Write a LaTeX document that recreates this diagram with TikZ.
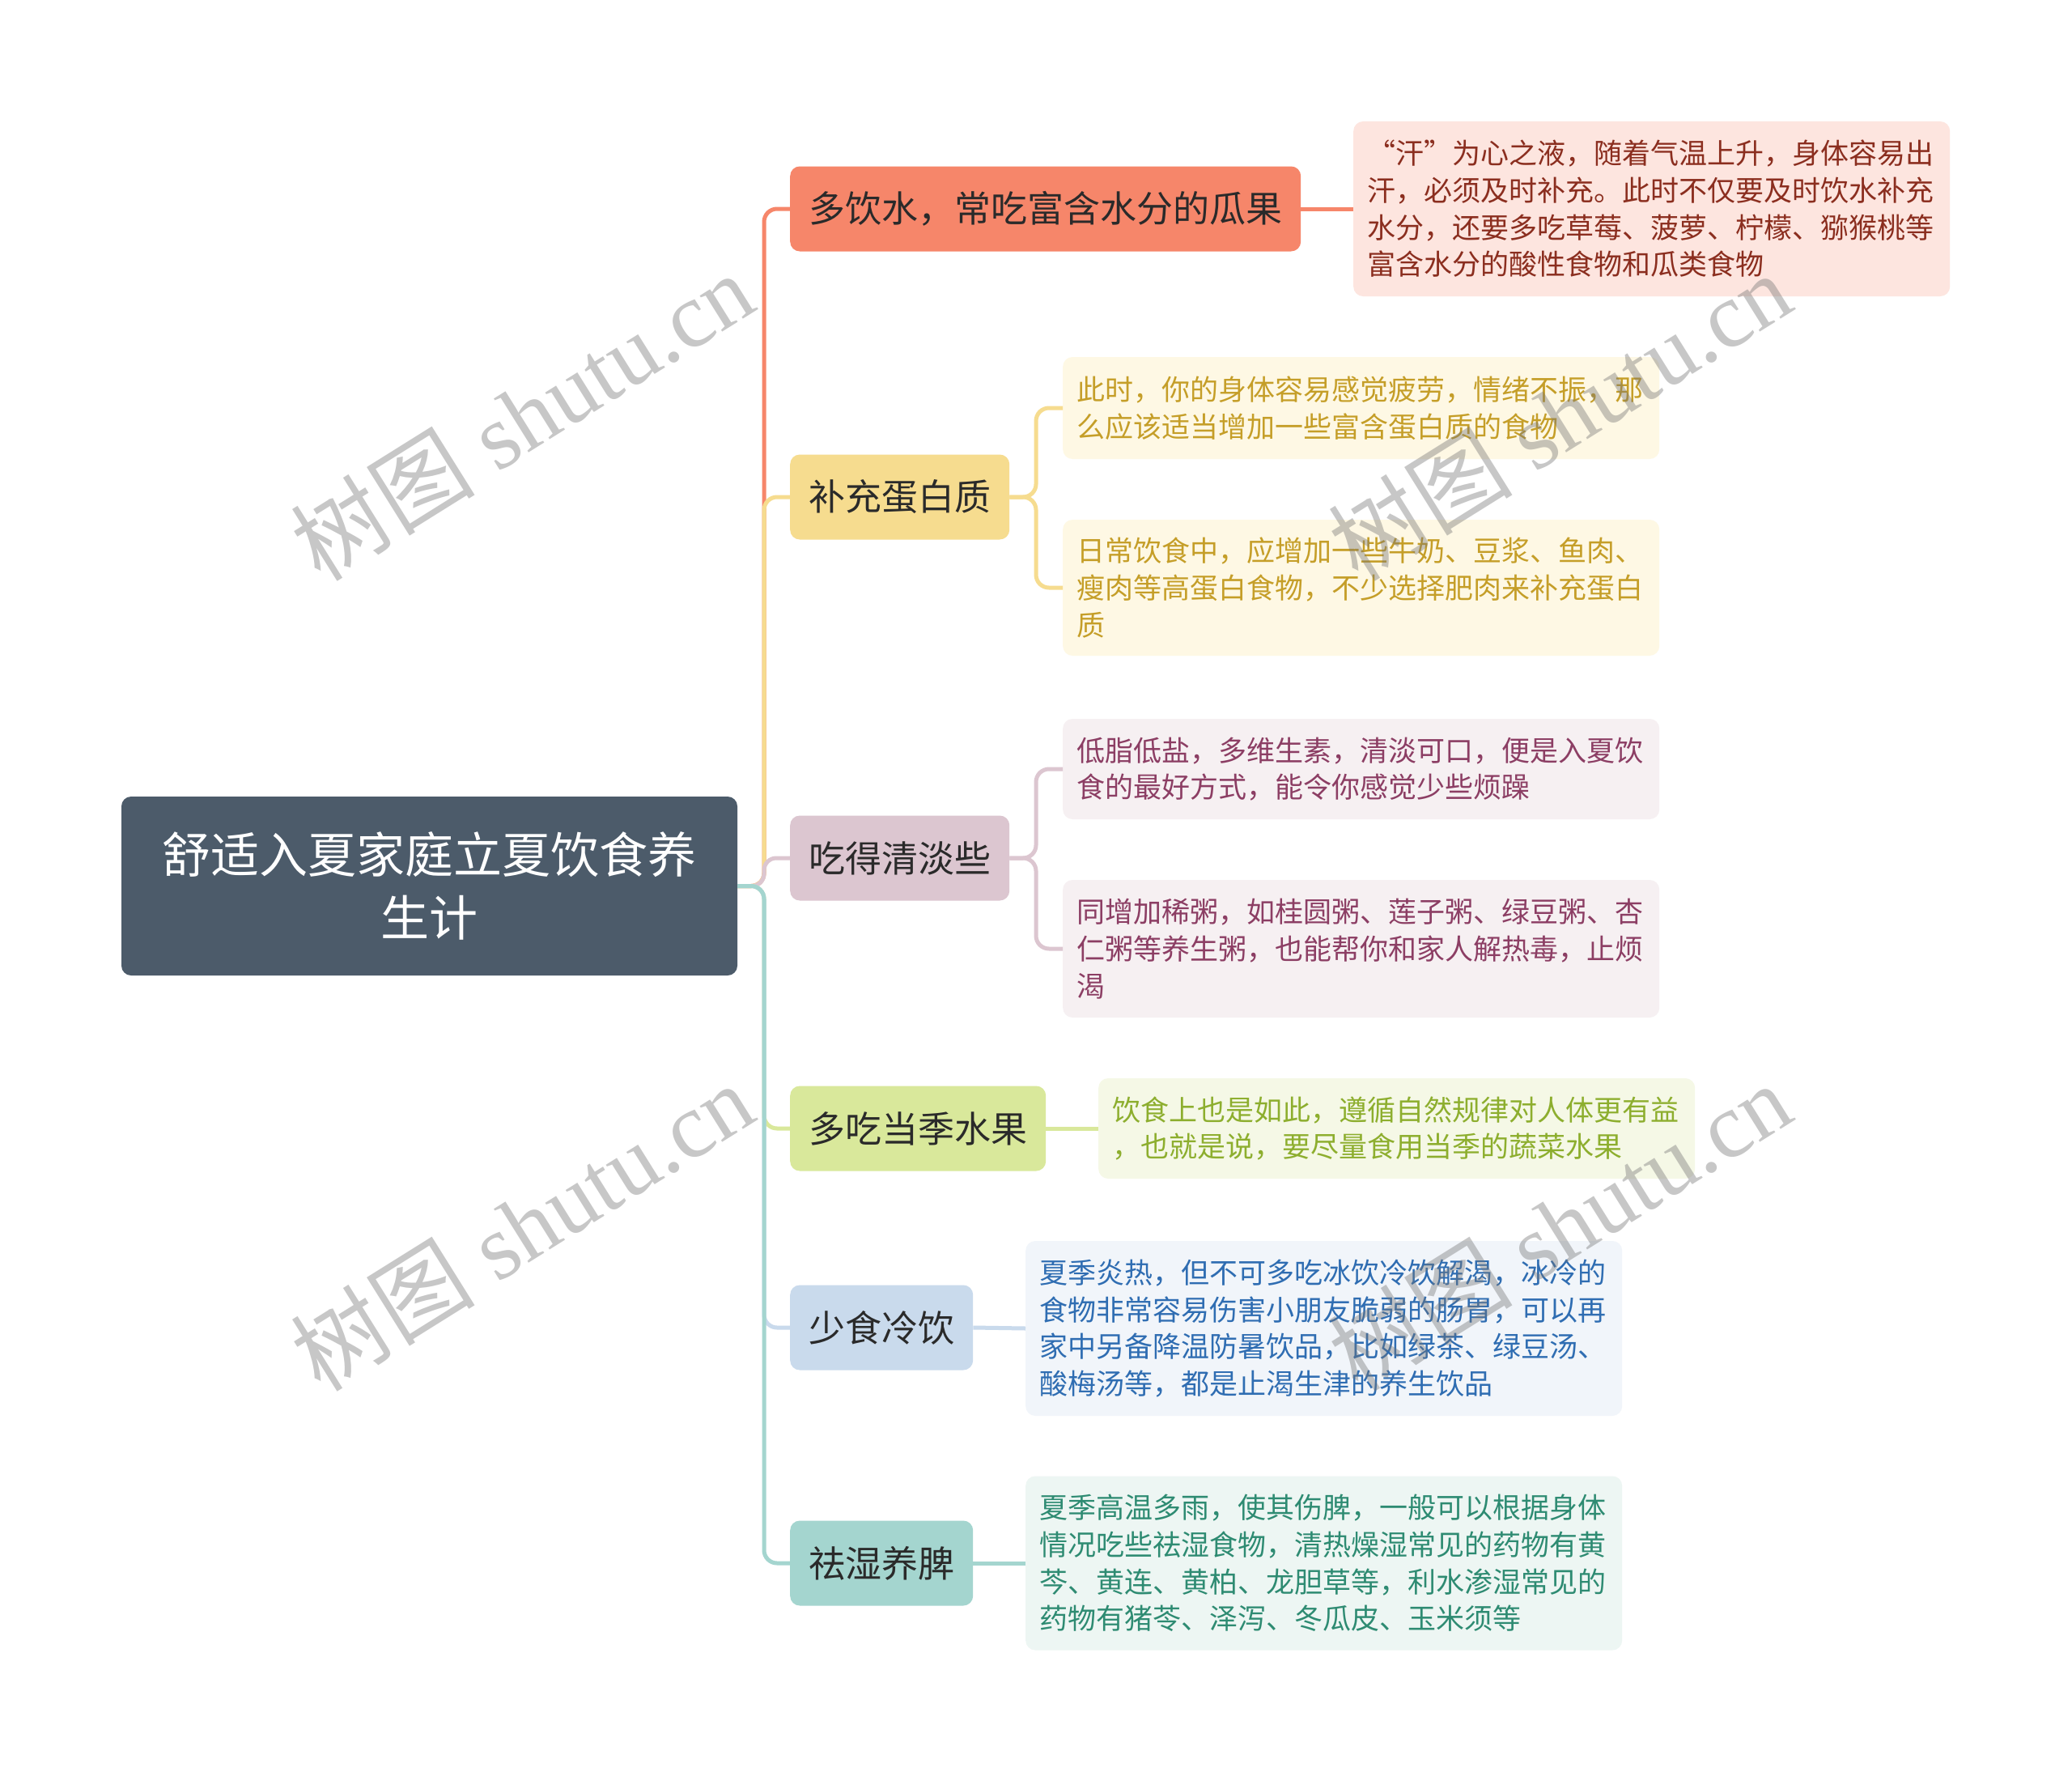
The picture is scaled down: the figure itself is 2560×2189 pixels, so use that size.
\documentclass[tikz,border=0pt]{standalone}
\usepackage{fontspec}
\setmainfont{Liberation Serif}
\newfontfamily\cjk{Noto Sans CJK SC}
\newfontfamily\wmlatin{Liberation Serif}
\definecolor{rootc}{HTML}{4C5B6A}
\definecolor{c1}{HTML}{F6866A}
\definecolor{c2}{HTML}{F6DC8F}
\definecolor{c3}{HTML}{DCC6D0}
\definecolor{c4}{HTML}{D9E89B}
\definecolor{c5}{HTML}{C9DAEC}
\definecolor{c6}{HTML}{A4D5CF}
\definecolor{l1}{HTML}{FDE5DF}
\definecolor{l2}{HTML}{FEF8E4}
\definecolor{l3}{HTML}{F6F0F2}
\definecolor{l4}{HTML}{F5F8E6}
\definecolor{l5}{HTML}{F1F5FA}
\definecolor{l6}{HTML}{EDF6F3}
\definecolor{t1}{HTML}{8B2E1F}
\definecolor{t2}{HTML}{C59E28}
\definecolor{t3}{HTML}{8C3E64}
\definecolor{t4}{HTML}{8DAE2E}
\definecolor{t5}{HTML}{2F6DB2}
\definecolor{t6}{HTML}{2E8B72}
\definecolor{btext}{HTML}{2A2A2A}
\begin{document}
\begin{tikzpicture}[x=1pt,y=-1pt,
  rootbox/.style={fill=rootc, rounded corners=12pt, text=white,
    font=\cjk\fontsize{60}{78}\selectfont, align=center,
    minimum width=761pt, minimum height=221pt, inner sep=0pt},
  branchbox/.style={rounded corners=12pt, font=\cjk\fontsize{45}{54}\selectfont,
    text=btext, minimum height=105pt, inner xsep=23pt, inner ysep=0pt, anchor=west},
  leafbox/.style={rounded corners=12pt, font=\cjk\fontsize{35}{45.7}\selectfont,
    align=left, text width=702pt, inner xsep=17.5pt, inner ysep=0pt, anchor=west},
  conn/.style={line width=5pt, rounded corners=16pt},
  wm/.style={rotate=32, text=black!55, text opacity=0.4, inner sep=0pt,
    font=\wmlatin\fontsize{114}{114}\selectfont}
]
\useasboundingbox (0,0) rectangle (2560,2189);
\fill[white] (0,0) rectangle (2560,2189);

% root
\node[rootbox] (root) at (530.5,1094.5) {舒适入夏家庭立夏饮食养\\生计};

% branches
\node[branchbox, fill=c1] (b1) at (976,258) {多饮水，常吃富含水分的瓜果};
\node[branchbox, fill=c2] (b2) at (976,614) {补充蛋白质};
\node[branchbox, fill=c3] (b3) at (976,1060) {吃得清淡些};
\node[branchbox, fill=c4] (b4) at (976,1394) {多吃当季水果};
\node[branchbox, fill=c5] (b5) at (976,1640) {少食冷饮};
\node[branchbox, fill=c6] (b6) at (976,1931) {祛湿养脾};

% leaves
\node[leafbox, fill=l1, text=t1, minimum height=216pt] (l1) at (1672,258)
  {“汗”为心之液，随着气温上升，身体容易出\\汗，必须及时补充。此时不仅要及时饮水补充\\水分，还要多吃草莓、菠萝、柠檬、猕猴桃等\\富含水分的酸性食物和瓜类食物};
\node[leafbox, fill=l2, text=t2, minimum height=126pt] (l2a) at (1313,504)
  {此时，你的身体容易感觉疲劳，情绪不振，那\\么应该适当增加一些富含蛋白质的食物};
\node[leafbox, fill=l2, text=t2, minimum height=168pt] (l2b) at (1313,726)
  {日常饮食中，应增加一些牛奶、豆浆、鱼肉、\\瘦肉等高蛋白食物，不少选择肥肉来补充蛋白\\质};
\node[leafbox, fill=l3, text=t3, minimum height=124pt] (l3a) at (1313,950)
  {低脂低盐，多维生素，清淡可口，便是入夏饮\\食的最好方式，能令你感觉少些烦躁};
\node[leafbox, fill=l3, text=t3, minimum height=170pt] (l3b) at (1313,1172)
  {同增加稀粥，如桂圆粥、莲子粥、绿豆粥、杏\\仁粥等养生粥，也能帮你和家人解热毒，止烦\\渴};
\node[leafbox, fill=l4, text=t4, minimum height=124pt] (l4) at (1357,1394)
  {饮食上也是如此，遵循自然规律对人体更有益\\，也就是说，要尽量食用当季的蔬菜水果};
\node[leafbox, fill=l5, text=t5, minimum height=216pt] (l5) at (1267,1641)
  {夏季炎热，但不可多吃冰饮冷饮解渴，冰冷的\\食物非常容易伤害小朋友脆弱的肠胃，可以再\\家中另备降温防暑饮品，比如绿茶、绿豆汤、\\酸梅汤等，都是止渴生津的养生饮品};
\node[leafbox, fill=l6, text=t6, minimum height=215pt] (l6) at (1267,1931)
  {夏季高温多雨，使其伤脾，一般可以根据身体\\情况吃些祛湿食物，清热燥湿常见的药物有黄\\芩、黄连、黄柏、龙胆草等，利水渗湿常见的\\药物有猪苓、泽泻、冬瓜皮、玉米须等};

% junction coordinates
\coordinate (trunk) at (944,1094.5);
\coordinate (j2) at (1280,614);
\coordinate (j3) at (1280,1060);

% root to branches
\draw[conn, draw=c1] (root.east) -- (trunk) |- (b1.west);
\draw[conn, draw=c2] (root.east) -- (trunk) |- (b2.west);
\draw[conn, draw=c3, rounded corners=15pt] (root.east) -- (trunk) |- (b3.west);
\draw[conn, draw=c4] (root.east) -- (trunk) |- (b4.west);
\draw[conn, draw=c5] (root.east) -- (trunk) |- (b5.west);
\draw[conn, draw=c6] (root.east) -- (trunk) |- (b6.west);

% branches to leaves
\draw[conn, draw=c1] (b1.east) -- (l1.west);
\draw[conn, draw=c2] (b2.east) -- (j2) |- (l2a.west);
\draw[conn, draw=c2] (b2.east) -- (j2) |- (l2b.west);
\draw[conn, draw=c3] (b3.east) -- (j3) |- (l3a.west);
\draw[conn, draw=c3] (b3.east) -- (j3) |- (l3b.west);
\draw[conn, draw=c4] (b4.east) -- (l4.west);
\draw[conn, draw=c5] (b5.east) -- (l5.west);
\draw[conn, draw=c6] (b6.east) -- (l6.west);

% watermarks
\node[wm] (wm1) at (645,514) {{\cjk 树图} shutu.cn};
\node[wm] (wm2) at (1927,514) {{\cjk 树图} shutu.cn};
\node[wm] (wm3) at (645,1515) {{\cjk 树图} shutu.cn};
\node[wm] (wm4) at (1927,1515) {{\cjk 树图} shutu.cn};
\end{tikzpicture}
\end{document}
